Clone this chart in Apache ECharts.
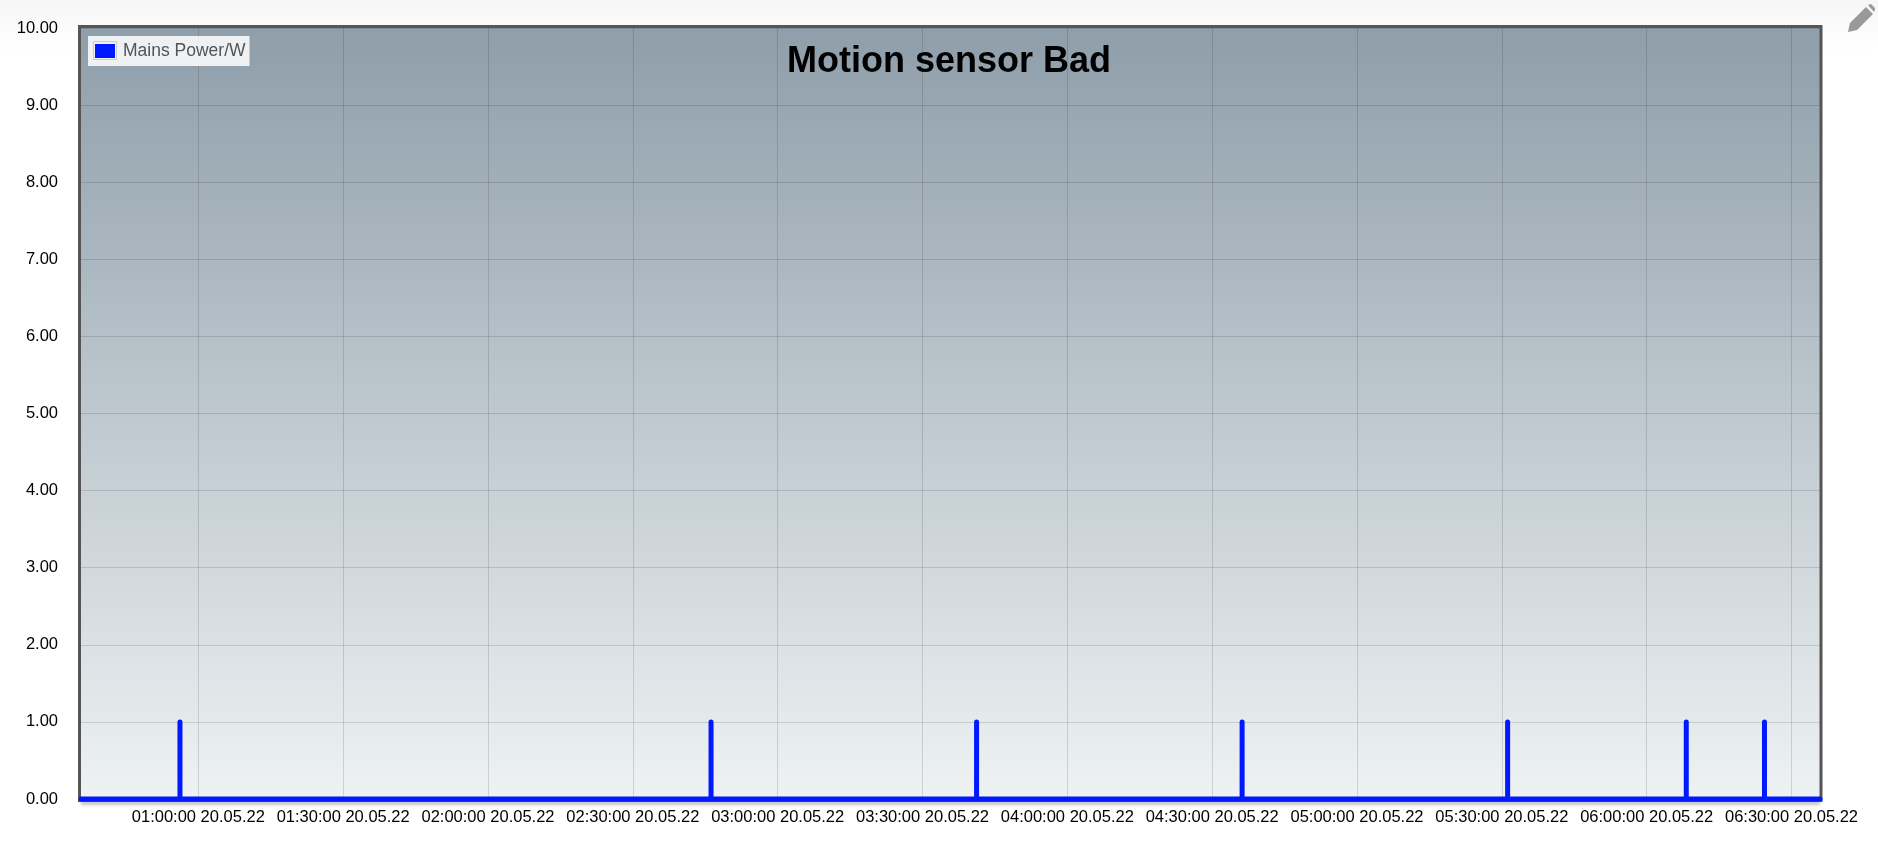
<!DOCTYPE html>
<html><head><meta charset="utf-8">
<style>
html,body{margin:0;padding:0;width:1878px;height:842px;overflow:hidden;background:linear-gradient(#f6f6f6 0,#ffffff 52px,#ffffff 100%);}
#c{width:1878px;height:842px;}
</style>
<script src="https://cdn.jsdelivr.net/npm/echarts@6/dist/echarts.min.js"></script>
</head><body><div id="c"></div>
<script>
const seriesName = 'Mains Power/W';
const chartTitle = 'Motion sensor Bad';
const dateDay = '2022-05-20';
const axisStart = '00:35:42';
const axisEnd = '06:35:54';
const tickTimes = ['01:00:00','01:30:00','02:00:00','02:30:00','03:00:00','03:30:00','04:00:00','04:30:00','05:00:00','05:30:00','06:00:00','06:30:00'];
const spikeTimes = ['00:56:12','02:46:12','03:41:12','04:36:12','05:31:12','06:08:12','06:24:24'];
const spikeValue = 1;
const baseValue = 0;
const yTicks = [0,1,2,3,4,5,6,7,8,9,10];

const ms = t => new Date(dateDay + 'T' + t).getTime();
const pts = [[ms(axisStart), baseValue]];
spikeTimes.forEach(t => { pts.push([ms(t), baseValue], [ms(t), spikeValue], [ms(t), baseValue]); });
pts.push([ms(axisEnd), baseValue]);
const pad = n => String(n).padStart(2,'0');
const fmt = v => { const d = new Date(v);
  return pad(d.getHours())+':'+pad(d.getMinutes())+':'+pad(d.getSeconds())+' '+pad(d.getDate())+'.'+pad(d.getMonth()+1)+'.'+String(d.getFullYear()).slice(2); };
const tickVals = tickTimes.map(ms);

const chart = echarts.init(document.getElementById('c'), null, {renderer:'canvas'});
const font = 'Liberation Sans, Arial, sans-serif';
chart.setOption({
  animation:false,
  backgroundColor:'transparent',
  title:{text:chartTitle,left:944,top:57,textAlign:'center',textVerticalAlign:'middle',
    textStyle:{fontFamily:font,fontWeight:'bold',fontSize:36,color:'#000'}},
  legend:{left:88,top:36,padding:[6,4,6,7],itemWidth:20,itemHeight:14,itemGap:0,icon:'rect',
    backgroundColor:'rgba(255,255,255,0.85)',
    textStyle:{fontFamily:font,fontSize:17.5,color:'#545454',lineHeight:14,padding:[0,0,0,3]},
    itemStyle:{borderWidth:0},
    data:[seriesName]},
  grid:{left:81,right:58,top:28,bottom:43,show:true,borderWidth:0,
    backgroundColor:new echarts.graphic.LinearGradient(0,0,0,1,[{offset:0,color:'#8e9eaa'},{offset:1,color:'#eef2f3'}]),
    shadowColor:'rgba(0,0,0,0.22)',shadowBlur:3,shadowOffsetY:6,containLabel:false},
  xAxis:{type:'value',min:ms(axisStart),max:ms(axisEnd),scale:true,
    axisLine:{show:false},
    axisTick:{show:false,customValues:tickVals},
    minorTick:{show:false},
    splitLine:{show:true,lineStyle:{color:'rgba(0,0,0,0.13)',width:1}},
    axisLabel:{customValues:tickVals,formatter:v=>fmt(v),fontFamily:font,fontSize:16.5,color:'#000',margin:10,hideOverlap:false}},
  yAxis:{type:'value',min:yTicks[0],max:yTicks[yTicks.length-1],interval:1,
    axisLine:{show:false},axisTick:{show:false},
    splitLine:{show:true,lineStyle:{color:'rgba(0,0,0,0.13)',width:1}},
    axisLabel:{formatter:v=>v.toFixed(2),fontFamily:font,fontSize:16.5,color:'#000',margin:23,padding:[4,0,0,0]}},
  series:[{name:seriesName,type:'line',data:pts,showSymbol:false,symbol:'none',clip:false,z:5,
    itemStyle:{color:'#0019ff'},
    lineStyle:{color:'#0019ff',width:5,cap:'round',join:'round'}}],
  graphic:[
    {type:'rect',z:1,silent:true,shape:{x:79.5,y:26.5,width:1741.5,height:774},style:{fill:'none',stroke:'#555555',lineWidth:3}},
    {type:'rect',z:10,silent:true,shape:{x:93.5,y:41.5,width:23,height:18},style:{fill:'none',stroke:'#cccccc',lineWidth:1}},
    {type:'polygon',z:10,silent:true,shape:{points:[[1848,32],[1850,23],[1866,7],[1873,14],[1857,30]]},style:{fill:'#999999'}},
    {type:'polygon',z:10,silent:true,shape:{points:[[1868,5],[1871,4],[1875,8],[1875,10],[1874,12]]},style:{fill:'#999999'}}
  ]
});
</script></body></html>
